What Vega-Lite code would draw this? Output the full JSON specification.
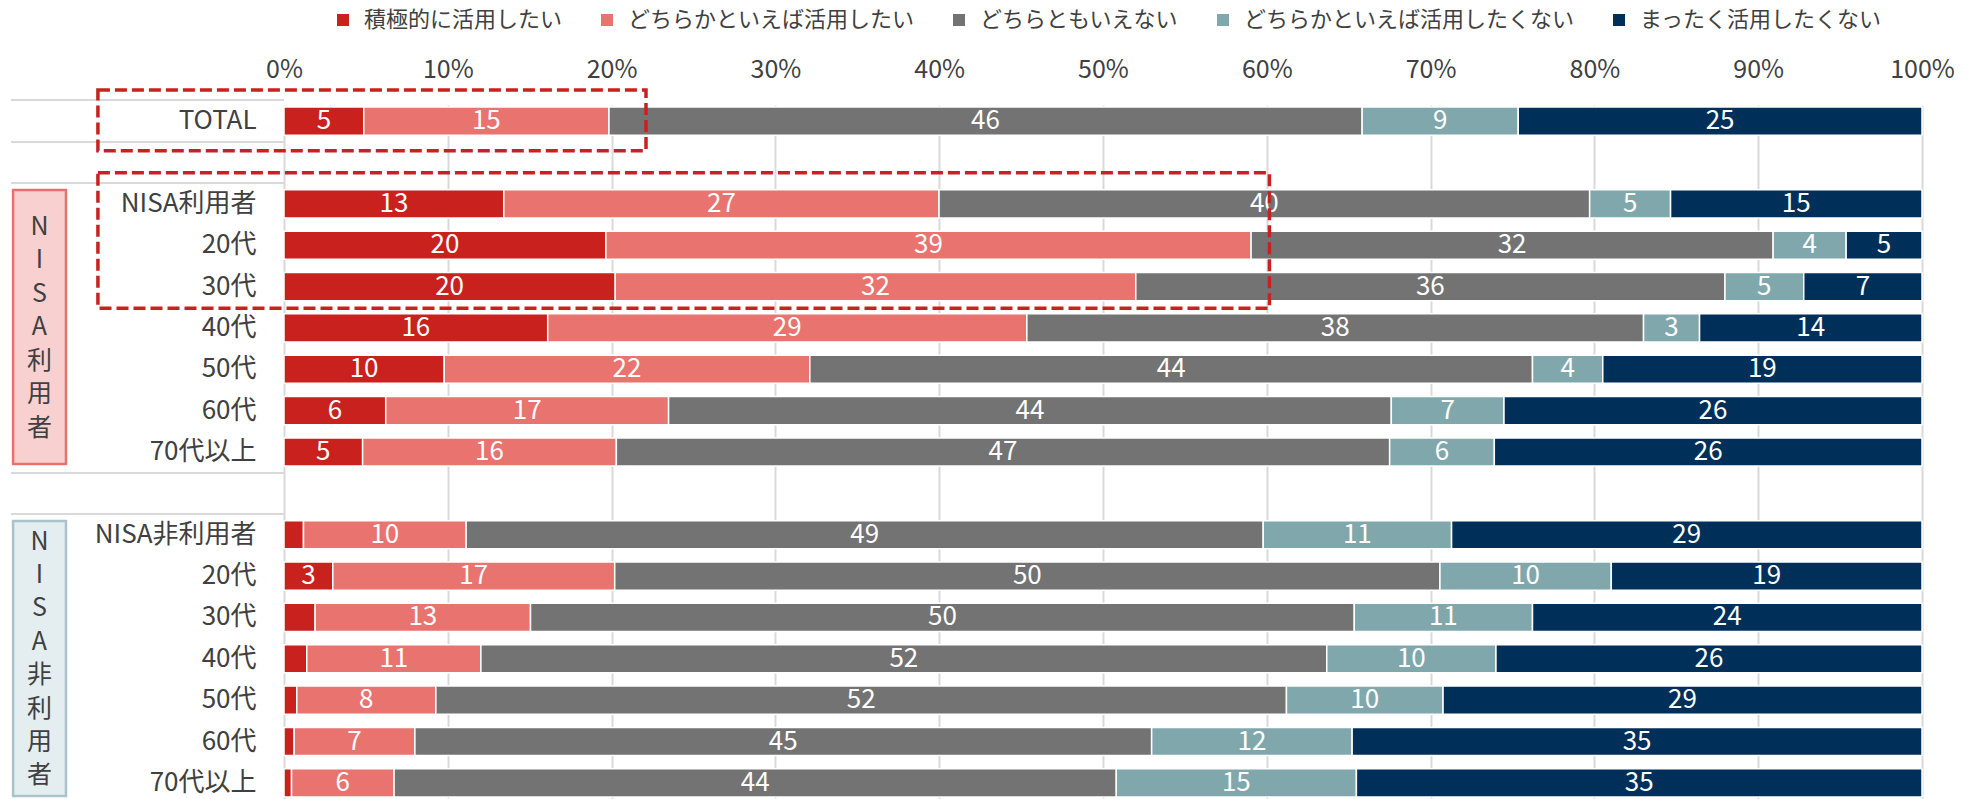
{
  "$schema": "https://vega.github.io/schema/vega-lite/v6.json",
  "width": 1638,
  "height": 694,
  "autosize": {"type": "none"},
  "padding": {"left": 284, "top": 105, "right": 59, "bottom": 0},
  "background": "white",
  "config": {
    "font": "Noto Sans CJK JP",
    "view": {"stroke": null}
  },
  "resolve": {"scale": {"y": "independent", "x": "independent"}},
  "layer": [
    {
      "data": {
        "values": [
          {"r": "TOTAL", "c": "積極的に活用したい", "k": 0, "v": 4.87, "t": "5"},
          {"r": "TOTAL", "c": "どちらかといえば活用したい", "k": 1, "v": 14.97, "t": "15"},
          {"r": "TOTAL", "c": "どちらともいえない", "k": 2, "v": 45.98, "t": "46"},
          {"r": "TOTAL", "c": "どちらかといえば活用したくない", "k": 3, "v": 9.53, "t": "9"},
          {"r": "TOTAL", "c": "まったく活用したくない", "k": 4, "v": 24.65, "t": "25"},
          {"r": "NISA利用者", "c": "積極的に活用したい", "k": 0, "v": 13.42, "t": "13"},
          {"r": "NISA利用者", "c": "どちらかといえば活用したい", "k": 1, "v": 26.57, "t": "27"},
          {"r": "NISA利用者", "c": "どちらともいえない", "k": 2, "v": 39.72, "t": "40"},
          {"r": "NISA利用者", "c": "どちらかといえば活用したくない", "k": 3, "v": 4.94, "t": "5"},
          {"r": "NISA利用者", "c": "まったく活用したくない", "k": 4, "v": 15.35, "t": "15"},
          {"r": "20代_1", "c": "積極的に活用したい", "k": 0, "v": 19.65, "t": "20"},
          {"r": "20代_1", "c": "どちらかといえば活用したい", "k": 1, "v": 39.39, "t": "39"},
          {"r": "20代_1", "c": "どちらともいえない", "k": 2, "v": 31.87, "t": "32"},
          {"r": "20代_1", "c": "どちらかといえば活用したくない", "k": 3, "v": 4.46, "t": "4"},
          {"r": "20代_1", "c": "まったく活用したくない", "k": 4, "v": 4.63, "t": "5"},
          {"r": "30代_1", "c": "積極的に活用したい", "k": 0, "v": 20.22, "t": "20"},
          {"r": "30代_1", "c": "どちらかといえば活用したい", "k": 1, "v": 31.78, "t": "32"},
          {"r": "30代_1", "c": "どちらともいえない", "k": 2, "v": 35.97, "t": "36"},
          {"r": "30代_1", "c": "どちらかといえば活用したくない", "k": 3, "v": 4.81, "t": "5"},
          {"r": "30代_1", "c": "まったく活用したくない", "k": 4, "v": 7.22, "t": "7"},
          {"r": "40代_1", "c": "積極的に活用したい", "k": 0, "v": 16.10, "t": "16"},
          {"r": "40代_1", "c": "どちらかといえば活用したい", "k": 1, "v": 29.25, "t": "29"},
          {"r": "40代_1", "c": "どちらともいえない", "k": 2, "v": 37.65, "t": "38"},
          {"r": "40代_1", "c": "どちらかといえば活用したくない", "k": 3, "v": 3.42, "t": "3"},
          {"r": "40代_1", "c": "まったく活用したくない", "k": 4, "v": 13.58, "t": "14"},
          {"r": "50代_1", "c": "積極的に活用したい", "k": 0, "v": 9.78, "t": "10"},
          {"r": "50代_1", "c": "どちらかといえば活用したい", "k": 1, "v": 22.32, "t": "22"},
          {"r": "50代_1", "c": "どちらともいえない", "k": 2, "v": 44.12, "t": "44"},
          {"r": "50代_1", "c": "どちらかといえば活用したくない", "k": 3, "v": 4.29, "t": "4"},
          {"r": "50代_1", "c": "まったく活用したくない", "k": 4, "v": 19.49, "t": "19"},
          {"r": "60代_1", "c": "積極的に活用したい", "k": 0, "v": 6.21, "t": "6"},
          {"r": "60代_1", "c": "どちらかといえば活用したい", "k": 1, "v": 17.27, "t": "17"},
          {"r": "60代_1", "c": "どちらともいえない", "k": 2, "v": 44.12, "t": "44"},
          {"r": "60代_1", "c": "どちらかといえば活用したくない", "k": 3, "v": 6.88, "t": "7"},
          {"r": "60代_1", "c": "まったく活用したくない", "k": 4, "v": 25.52, "t": "26"},
          {"r": "70代以上_1", "c": "積極的に活用したい", "k": 0, "v": 4.80, "t": "5"},
          {"r": "70代以上_1", "c": "どちらかといえば活用したい", "k": 1, "v": 15.49, "t": "16"},
          {"r": "70代以上_1", "c": "どちらともいえない", "k": 2, "v": 47.21, "t": "47"},
          {"r": "70代以上_1", "c": "どちらかといえば活用したくない", "k": 3, "v": 6.39, "t": "6"},
          {"r": "70代以上_1", "c": "まったく活用したくない", "k": 4, "v": 26.11, "t": "26"},
          {"r": "NISA非利用者", "c": "積極的に活用したい", "k": 0, "v": 1.19, "t": ""},
          {"r": "NISA非利用者", "c": "どちらかといえば活用したい", "k": 1, "v": 9.93, "t": "10"},
          {"r": "NISA非利用者", "c": "どちらともいえない", "k": 2, "v": 48.66, "t": "49"},
          {"r": "NISA非利用者", "c": "どちらかといえば活用したくない", "k": 3, "v": 11.50, "t": "11"},
          {"r": "NISA非利用者", "c": "まったく活用したくない", "k": 4, "v": 28.72, "t": "29"},
          {"r": "20代_2", "c": "積極的に活用したい", "k": 0, "v": 2.98, "t": "3"},
          {"r": "20代_2", "c": "どちらかといえば活用したい", "k": 1, "v": 17.21, "t": "17"},
          {"r": "20代_2", "c": "どちらともいえない", "k": 2, "v": 50.38, "t": "50"},
          {"r": "20代_2", "c": "どちらかといえば活用したくない", "k": 3, "v": 10.46, "t": "10"},
          {"r": "20代_2", "c": "まったく活用したくない", "k": 4, "v": 18.97, "t": "19"},
          {"r": "30代_2", "c": "積極的に活用したい", "k": 0, "v": 1.90, "t": ""},
          {"r": "30代_2", "c": "どちらかといえば活用したい", "k": 1, "v": 13.15, "t": "13"},
          {"r": "30代_2", "c": "どちらともいえない", "k": 2, "v": 50.29, "t": "50"},
          {"r": "30代_2", "c": "どちらかといえば活用したくない", "k": 3, "v": 10.88, "t": "11"},
          {"r": "30代_2", "c": "まったく活用したくない", "k": 4, "v": 23.78, "t": "24"},
          {"r": "40代_2", "c": "積極的に活用したい", "k": 0, "v": 1.39, "t": ""},
          {"r": "40代_2", "c": "どちらかといえば活用したい", "k": 1, "v": 10.63, "t": "11"},
          {"r": "40代_2", "c": "どちらともいえない", "k": 2, "v": 51.64, "t": "52"},
          {"r": "40代_2", "c": "どちらかといえば活用したくない", "k": 3, "v": 10.33, "t": "10"},
          {"r": "40代_2", "c": "まったく活用したくない", "k": 4, "v": 26.01, "t": "26"},
          {"r": "50代_2", "c": "積極的に活用したい", "k": 0, "v": 0.78, "t": ""},
          {"r": "50代_2", "c": "どちらかといえば活用したい", "k": 1, "v": 8.49, "t": "8"},
          {"r": "50代_2", "c": "どちらともいえない", "k": 2, "v": 51.93, "t": "52"},
          {"r": "50代_2", "c": "どちらかといえば活用したくない", "k": 3, "v": 9.56, "t": "10"},
          {"r": "50代_2", "c": "まったく活用したくない", "k": 4, "v": 29.24, "t": "29"},
          {"r": "60代_2", "c": "積極的に活用したい", "k": 0, "v": 0.62, "t": ""},
          {"r": "60代_2", "c": "どちらかといえば活用したい", "k": 1, "v": 7.37, "t": "7"},
          {"r": "60代_2", "c": "どちらともいえない", "k": 2, "v": 44.98, "t": "45"},
          {"r": "60代_2", "c": "どちらかといえば活用したくない", "k": 3, "v": 12.24, "t": "12"},
          {"r": "60代_2", "c": "まったく活用したくない", "k": 4, "v": 34.79, "t": "35"},
          {"r": "70代以上_2", "c": "積極的に活用したい", "k": 0, "v": 0.46, "t": ""},
          {"r": "70代以上_2", "c": "どちらかといえば活用したい", "k": 1, "v": 6.26, "t": "6"},
          {"r": "70代以上_2", "c": "どちらともいえない", "k": 2, "v": 44.09, "t": "44"},
          {"r": "70代以上_2", "c": "どちらかといえば活用したくない", "k": 3, "v": 14.66, "t": "15"},
          {"r": "70代以上_2", "c": "まったく活用したくない", "k": 4, "v": 34.53, "t": "35"}
        ]
      },
      "encoding": {
        "y": {
          "field": "r",
          "type": "nominal",
          "scale": {
            "type": "band",
            "domain": ["TOTAL", "_a", "NISA利用者", "20代_1", "30代_1", "40代_1", "50代_1", "60代_1", "70代以上_1", "_b", "NISA非利用者", "20代_2", "30代_2", "40代_2", "50代_2", "60代_2", "70代以上_2"],
            "paddingInner": 0.32,
            "paddingOuter": 0.05
          },
          "axis": {
            "title": null,
            "domain": false,
            "ticks": false,
            "tickSize": 0,
            "labelPadding": 28,
            "labelFontSize": 26,
            "labelColor": "#404040",
            "labelLimit": 400,
            "labelExpr": "split(datum.label, '_')[0]"
          }
        },
        "order": {"field": "k", "type": "quantitative", "sort": "ascending"}
      },
      "layer": [
        {
          "mark": {"type": "bar", "stroke": "white", "strokeWidth": 1.5},
          "encoding": {
            "x": {
              "field": "v",
              "type": "quantitative",
              "stack": "zero",
              "scale": {"domain": [0, 100], "nice": false, "zero": false},
              "axis": {
                "orient": "top",
                "title": null,
                "values": [0, 10, 20, 30, 40, 50, 60, 70, 80, 90, 100],
                "labelExpr": "datum.value + '%'",
                "grid": true,
                "gridColor": "#D9D9D9",
                "gridWidth": 2,
                "domain": false,
                "ticks": false,
                "tickSize": 0,
                "labelPadding": 23,
                "labelFontSize": 25,
                "labelColor": "#404040",
                "labelFlush": false,
                "labelOverlap": false
              }
            },
            "color": {
              "field": "c",
              "type": "nominal",
              "scale": {
                "domain": ["積極的に活用したい", "どちらかといえば活用したい", "どちらともいえない", "どちらかといえば活用したくない", "まったく活用したくない"],
                "range": ["#C9211E", "#E8736F", "#737373", "#80A8AC", "#00305A"]
              },
              "legend": {
                "title": null,
                "orient": "none",
                "legendX": 48,
                "legendY": -96,
                "direction": "horizontal",
                "columns": 5,
                "symbolType": "square",
                "symbolSize": 144,
                "symbolStrokeWidth": 0,
                "labelFontSize": 22,
                "labelColor": "#404040",
                "labelOffset": 10,
                "labelLimit": 500,
                "columnPadding": 33,
                "padding": 0
              }
            }
          }
        },
        {
          "mark": {"type": "text", "color": "white", "fontSize": 26, "baseline": "middle", "align": "center"},
          "encoding": {
            "x": {
              "field": "v",
              "type": "quantitative",
              "stack": "zero",
              "bandPosition": 0.5,
              "scale": {"domain": [0, 100], "nice": false, "zero": false}
            },
            "detail": {"field": "c", "type": "nominal"},
            "text": {"field": "t", "type": "nominal"}
          }
        }
      ]
    },
    {
      "data": {"values": [{}]},
      "layer": [
        {
          "mark": {"type": "rect", "fill": "#F8D0D0", "stroke": "#E8716F", "strokeWidth": 2.5},
          "encoding": {
            "x": {"datum": -16.54, "type": "quantitative", "scale": {"domain": [0, 100], "nice": false, "zero": false}, "axis": null},
            "x2": {"datum": -13.31},
            "y": {"datum": 1.666, "type": "quantitative", "scale": {"domain": [-0.389, 16.39], "reverse": true, "nice": false, "zero": false}, "axis": null},
            "y2": {"datum": 8.291}
          }
        },
        {
          "mark": {"type": "rect", "fill": "#E4EEF0", "stroke": "#A8C4CA", "strokeWidth": 2.5},
          "encoding": {
            "x": {"datum": -16.54, "type": "quantitative", "scale": {"domain": [0, 100], "nice": false, "zero": false}, "axis": null},
            "x2": {"datum": -13.31},
            "y": {"datum": 9.669, "type": "quantitative", "scale": {"domain": [-0.389, 16.39], "reverse": true, "nice": false, "zero": false}, "axis": null},
            "y2": {"datum": 16.317}
          }
        },
        {
          "mark": {"type": "text", "text": ["N", "I", "S", "A", "利", "用", "者"], "fontSize": 25, "lineHeight": 33.5, "baseline": "middle", "align": "center", "color": "#404040"},
          "encoding": {
            "x": {"datum": -14.93, "type": "quantitative", "scale": {"domain": [0, 100], "nice": false, "zero": false}, "axis": null},
            "y": {"datum": 2.56, "type": "quantitative", "scale": {"domain": [-0.389, 16.39], "reverse": true, "nice": false, "zero": false}, "axis": null}
          }
        },
        {
          "mark": {"type": "text", "text": ["N", "I", "S", "A", "非", "利", "用", "者"], "fontSize": 25, "lineHeight": 33.4, "baseline": "middle", "align": "center", "color": "#404040"},
          "encoding": {
            "x": {"datum": -14.93, "type": "quantitative", "scale": {"domain": [0, 100], "nice": false, "zero": false}, "axis": null},
            "y": {"datum": 10.169, "type": "quantitative", "scale": {"domain": [-0.389, 16.39], "reverse": true, "nice": false, "zero": false}, "axis": null}
          }
        },
        {
          "mark": {"type": "rule", "color": "#D9D9D9", "strokeWidth": 2},
          "encoding": {
            "x": {"datum": -16.67, "type": "quantitative", "scale": {"domain": [0, 100], "nice": false, "zero": false}, "axis": null},
            "x2": {"datum": 0},
            "y": {"datum": -0.51, "type": "quantitative", "scale": {"domain": [-0.389, 16.39], "reverse": true, "nice": false, "zero": false}, "axis": null}
          }
        },
        {
          "mark": {"type": "rule", "color": "#D9D9D9", "strokeWidth": 2},
          "encoding": {
            "x": {"datum": -16.67, "type": "quantitative", "scale": {"domain": [0, 100], "nice": false, "zero": false}, "axis": null},
            "x2": {"datum": 0},
            "y": {"datum": 0.505, "type": "quantitative", "scale": {"domain": [-0.389, 16.39], "reverse": true, "nice": false, "zero": false}, "axis": null}
          }
        },
        {
          "mark": {"type": "rule", "color": "#D9D9D9", "strokeWidth": 2},
          "encoding": {
            "x": {"datum": -16.67, "type": "quantitative", "scale": {"domain": [0, 100], "nice": false, "zero": false}, "axis": null},
            "x2": {"datum": 0},
            "y": {"datum": 1.497, "type": "quantitative", "scale": {"domain": [-0.389, 16.39], "reverse": true, "nice": false, "zero": false}, "axis": null}
          }
        },
        {
          "mark": {"type": "rule", "color": "#D9D9D9", "strokeWidth": 2},
          "encoding": {
            "x": {"datum": -16.67, "type": "quantitative", "scale": {"domain": [0, 100], "nice": false, "zero": false}, "axis": null},
            "x2": {"datum": 0},
            "y": {"datum": 8.508, "type": "quantitative", "scale": {"domain": [-0.389, 16.39], "reverse": true, "nice": false, "zero": false}, "axis": null}
          }
        },
        {
          "mark": {"type": "rule", "color": "#D9D9D9", "strokeWidth": 2},
          "encoding": {
            "x": {"datum": -16.67, "type": "quantitative", "scale": {"domain": [0, 100], "nice": false, "zero": false}, "axis": null},
            "x2": {"datum": 0},
            "y": {"datum": 9.499, "type": "quantitative", "scale": {"domain": [-0.389, 16.39], "reverse": true, "nice": false, "zero": false}, "axis": null}
          }
        },
        {
          "mark": {"type": "rect", "filled": false, "stroke": "#C9211E", "strokeWidth": 3.5, "strokeDash": [12, 5]},
          "encoding": {
            "x": {"datum": -11.36, "type": "quantitative", "scale": {"domain": [0, 100], "nice": false, "zero": false}, "axis": null},
            "x2": {"datum": 22.1},
            "y": {"datum": -0.752, "type": "quantitative", "scale": {"domain": [-0.389, 16.39], "reverse": true, "nice": false, "zero": false}, "axis": null},
            "y2": {"datum": 0.716}
          }
        },
        {
          "mark": {"type": "rect", "filled": false, "stroke": "#C9211E", "strokeWidth": 3.5, "strokeDash": [12, 5]},
          "encoding": {
            "x": {"datum": -11.36, "type": "quantitative", "scale": {"domain": [0, 100], "nice": false, "zero": false}, "axis": null},
            "x2": {"datum": 60.16},
            "y": {"datum": 1.248, "type": "quantitative", "scale": {"domain": [-0.389, 16.39], "reverse": true, "nice": false, "zero": false}, "axis": null},
            "y2": {"datum": 4.526}
          }
        }
      ]
    }
  ]
}
